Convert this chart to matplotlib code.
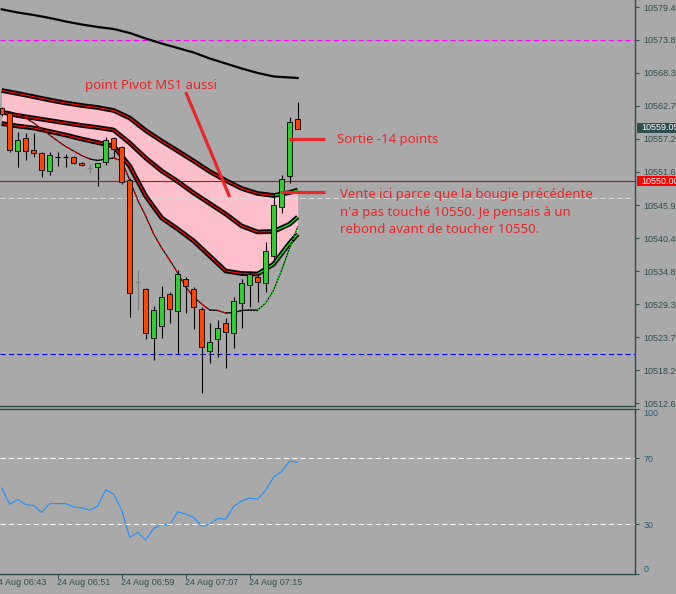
import matplotlib
matplotlib.use("Agg")
import matplotlib.pyplot as plt
import matplotlib.transforms as mtransforms
from matplotlib.collections import LineCollection
from matplotlib.patches import Rectangle
import numpy as np

BG = "#a9a9a9"
AXIS = "#2f4f4f"
BULL = "#32cd32"
BEAR = "#ff4500"
NOTE = "#e8262c"

# M1 bars, bar 0 = 24 Aug 06:44
opens = [10562.33, 10561.58, 10555.18, 10557.32, 10555.30, 10554.79, 10551.76, 10554.17,
         10554.17, 10554.12, 10553.06, 10552.26, 10552.48, 10553.22, 10557.27, 10555.75,
         10550.24, 10533.05, 10531.87, 10523.56, 10525.68, 10530.98, 10528.21, 10533.50,
         10531.87, 10528.45, 10521.47, 10523.39, 10526.09, 10524.40, 10529.46, 10532.49,
         10533.94, 10532.83, 10537.48, 10545.74, 10550.97, 10560.47]
highs = [10562.60, 10561.90, 10558.38, 10558.21, 10558.16, 10554.90, 10555.01, 10555.01,
         10554.60, 10554.30, 10553.20, 10553.00, 10553.10, 10557.54, 10557.54, 10556.00,
         10550.50, 10535.07, 10532.00, 10529.00, 10532.37, 10531.41, 10535.07, 10533.94,
         10532.26, 10528.89, 10526.09, 10526.64, 10526.93, 10530.57, 10533.61, 10534.95,
         10534.52, 10539.79, 10548.05, 10551.08, 10560.81, 10563.34]
lows = [10561.10, 10555.00, 10552.48, 10553.61, 10554.17, 10550.75, 10551.08, 10552.60,
        10552.48, 10552.90, 10552.60, 10551.50, 10549.23, 10552.77, 10554.17, 10549.57,
        10527.10, 10528.33, 10523.39, 10519.90, 10523.56, 10526.19, 10520.91, 10527.77,
        10525.18, 10514.29, 10519.35, 10520.46, 10518.50, 10521.87, 10525.24, 10528.89,
        10529.73, 10531.41, 10536.47, 10544.73, 10549.79, 10558.89]
closes = [10561.37, 10555.30, 10556.98, 10555.18, 10554.84, 10551.93, 10554.45, 10554.17,
          10554.17, 10553.16, 10552.72, 10552.26, 10553.06, 10556.98, 10555.42, 10549.95,
          10531.25, 10533.05, 10524.40, 10528.33, 10530.47, 10528.45, 10534.35, 10532.37,
          10528.89, 10522.04, 10522.88, 10525.24, 10524.57, 10529.80, 10532.83, 10534.35,
          10533.00, 10538.27, 10545.98, 10550.36, 10559.97, 10558.89]
grey_dojis = [11, 17]

# indicator lines, read every second bar
ma_bars = [0, 2, 4, 6, 8, 10, 12, 14, 16, 18, 20, 22, 24, 26, 28, 30, 32, 34, 36, 37]
slow_ma = [10579.01, 10578.47, 10578.05, 10577.55, 10576.96, 10576.45, 10576.03, 10575.69,
           10575.02, 10574.09, 10573.25, 10572.49, 10571.73, 10570.72, 10569.88, 10569.03,
           10568.28, 10567.69, 10567.52, 10567.43]
band_upper = [10565.33, 10564.82, 10564.28, 10563.72, 10563.22, 10562.80, 10562.46, 10561.96,
              10560.69, 10558.58, 10556.81, 10555.13, 10553.44, 10551.67, 10550.16, 10548.81,
              10547.97, 10547.63, 10548.13, 10548.56]
band_mid = [10561.70, 10561.11, 10560.69, 10560.27, 10559.85, 10559.43, 10559.09, 10558.67,
            10556.48, 10553.95, 10551.76, 10549.99, 10548.05, 10546.28, 10544.51, 10542.49,
            10541.48, 10541.56, 10542.82, 10544.00]
band_lower = [10559.76, 10559.34, 10559.01, 10558.42, 10557.83, 10557.15, 10556.56, 10555.97,
              10552.60, 10547.54, 10543.84, 10541.98, 10539.96, 10537.43, 10534.90, 10534.48,
              10534.40, 10536.08, 10539.62, 10541.14]

fast_bars = list(range(2, 38))
fast_ma = [10561.37, 10560.69, 10559.85, 10558.84, 10557.83, 10556.81, 10555.89, 10555.13,
           10554.37, 10553.78, 10553.53, 10553.78, 10553.95, 10553.44, 10550.24, 10546.87,
           10544.17, 10541.14, 10538.78, 10536.76, 10534.57, 10532.21, 10530.52, 10529.34,
           10528.33, 10528.25, 10527.82, 10527.91, 10528.25, 10528.33, 10528.33, 10529.51,
           10531.70, 10535.07, 10538.78, 10542.32]

osc = [52.0, 42.1, 45.0, 41.9, 41.3, 37.1, 42.5, 42.5, 42.5, 40.5, 39.9, 38.5, 40.9, 51.0,
       48.2, 38.5, 21.9, 25.0, 20.3, 27.4, 30.0, 29.4, 37.5, 36.1, 34.1, 28.8, 30.0, 33.5,
       33.0, 40.9, 44.1, 45.9, 45.2, 50.6, 58.7, 62.1, 68.4, 67.6]
osc_levels = [70, 30]
osc_ticks = [0, 30, 70, 100]

pivot_ms1 = 10573.85
level_10550 = 10550.00
grey_level = 10547.21
blue_level = 10520.91
bid_price = 10559.05

price_ticks = [10579.40, 10573.85, 10568.30, 10562.75, 10557.20, 10551.65, 10545.95,
               10540.40, 10534.85, 10529.30, 10523.75, 10518.20, 10512.65]
time_bars = [-1, 7, 15, 23, 31]
time_labels = ["24 Aug 06:43", "24 Aug 06:51", "24 Aug 06:59", "24 Aug 07:07", "24 Aug 07:15"]

notes = [
    ("point Pivot MS1 aussi", 10.4, 10566.25),
    ("Sortie -14 points", 41.9, 10557.15),
    ("Vente ici parce que la bougie précédente", 42.3, 10547.88),
    ("n'a pas touché 10550. Je pensais à un", 42.3, 10544.80),
    ("rebond avant de toucher 10550.", 42.3, 10541.85),
]
note_lines = [
    ([23.0, 28.5], [10565.07, 10547.38]),
    ([35.9, 40.4], [10557.15, 10557.15]),
    ([34.8, 40.4], [10548.22, 10548.22]),
]

plt.rcParams["font.family"] = ["Liberation Sans", "DejaVu Sans"]

fig = plt.figure(figsize=(6.76, 5.94), dpi=100, facecolor=BG)
ax = fig.add_axes([0, 0.3165, 0.9393, 0.6835], facecolor=BG)
axo = fig.add_axes([0, 0.0345, 0.9393, 0.2769], facecolor=BG, sharex=ax)

ax.set_xlim(-0.2125, 79.16)
ax.set_ylim(10512.15, 10580.58)

# pink band between upper and lower envelope
ax.fill_between(ma_bars, band_upper, band_lower, color="#ffc0cb", lw=0, zorder=1)

# horizontal levels
ax.axhline(pivot_ms1, color="#ff00ff", lw=0.75, dashes=(5, 3), zorder=2)
ax.axhline(level_10550, color="#e00000", lw=0.8, zorder=2)
ax.axhline(grey_level, color="#d8d8d8", lw=0.75, dashes=(5, 3), zorder=2)
ax.axhline(blue_level, color="#0000ff", lw=0.75, dashes=(5, 3), zorder=2)

# slow moving average
ax.plot(ma_bars, slow_ma, color="black", lw=1.6, zorder=3)


def center_segments(xs, ys, rise_min):
    pts = np.column_stack([xs, ys])
    segs = np.stack([pts[:-1], pts[1:]], axis=1)
    d = np.diff(ys)
    cols = ["#00ff00" if v > rise_min else "#ff0000" for v in d]
    return segs, cols


for band in (band_upper, band_mid, band_lower):
    ax.plot(ma_bars, band, color="black", lw=3.4, solid_capstyle="butt", zorder=3)
    segs, cols = center_segments(ma_bars, band, 0.1)
    ax.add_collection(LineCollection(segs, colors=cols, linewidths=0.9, zorder=4))

# fast moving average
ax.plot(fast_bars, fast_ma, color="black", lw=0.8, zorder=4)
pts = np.column_stack([fast_bars, fast_ma])
segs = np.stack([pts[:-1], pts[1:]], axis=1)
fcols = []
for v in np.diff(fast_ma):
    if v > 0.35:
        fcols.append("#00ff00")
    elif v < -0.35:
        fcols.append("#ff0000")
    else:
        fcols.append("black")
ax.add_collection(LineCollection(segs, colors=fcols, linewidths=0.9,
                                 linestyles=(0, (1.2, 1.2)), zorder=4))

# candles
for i in range(len(opens)):
    o, h, l, c = opens[i], highs[i], lows[i], closes[i]
    wick_col = "#808080" if i in grey_dojis else "black"
    ax.vlines(i, l, h, color=wick_col, lw=0.8, zorder=5)
    if o == c:
        ax.hlines(o, i - 0.3, i + 0.3, color=wick_col, lw=0.8, zorder=6)
    else:
        col = BULL if c > o else BEAR
        ax.bar(i, abs(c - o), bottom=min(o, c), width=0.55, color=col,
               edgecolor="black", linewidth=0.6, zorder=6)

# notes
for xs, ys in note_lines:
    ax.plot(xs, ys, color=NOTE, lw=2.3, solid_capstyle="butt", zorder=7)
for txt, x, y in notes:
    ax.text(x, y, txt, color=NOTE, fontsize=9.5, family=["Noto Sans", "DejaVu Sans"],
            ha="left", va="center", zorder=8)

# price axis
ax.yaxis.tick_right()
ax.set_yticks(price_ticks)
ax.set_yticklabels([f"{p:.2f}" for p in price_ticks])
ax.tick_params(axis="y", direction="out", length=3, width=0.8, colors=AXIS,
               labelsize=6.5, pad=3)
ax.tick_params(axis="x", bottom=False, labelbottom=False)
for side in ("left", "top"):
    ax.spines[side].set_visible(False)
for side in ("right", "bottom"):
    ax.spines[side].set_color(AXIS)
    ax.spines[side].set_linewidth(1.0)

blend = mtransforms.blended_transform_factory(ax.transAxes, ax.transData)
for price, fc in ((bid_price, "#2f4f4f"), (level_10550, "#ff0000")):
    ax.add_patch(Rectangle((1.003, price - 0.84), 0.07, 1.69, transform=blend,
                           facecolor=fc, edgecolor="none", clip_on=False, zorder=9))
    ax.text(1.0094, price, f"{price:.2f}", transform=blend, color="white",
            fontsize=6.5, ha="left", va="center", clip_on=False, zorder=10)

# oscillator panel
axo.set_ylim(0, 100)
axo.plot(range(len(osc)), osc, color="#1e90ff", lw=0.8)
for lv in osc_levels:
    axo.axhline(lv, color="white", lw=0.75, dashes=(5, 3))
axo.yaxis.tick_right()
axo.set_yticks(osc_ticks)
axo.set_yticklabels([str(t) for t in osc_ticks])
axo.tick_params(axis="y", direction="out", length=3, width=0.8, colors=AXIS,
                labelsize=6.5, pad=3)
for lbl, t in zip(axo.get_yticklabels(), osc_ticks):
    lbl.set_color("#2a5f7a")
    if t == 100:
        lbl.set_va("top")
    elif t == 0:
        lbl.set_va("bottom")
axo.spines["left"].set_visible(False)
for side in ("right", "bottom", "top"):
    axo.spines[side].set_color(AXIS)
    axo.spines[side].set_linewidth(1.0)

axo.set_xticks(time_bars[1:])
axo.tick_params(axis="x", direction="out", length=3, width=0.8, colors=AXIS,
                labelbottom=False)
tblend = mtransforms.blended_transform_factory(axo.transData, axo.transAxes)
for b, lab in zip(time_bars, time_labels):
    axo.text(b - 0.07, -0.056, lab, transform=tblend, color=AXIS, fontsize=6.5,
             ha="left", va="center", clip_on=False)

fig.savefig("out.png", dpi=100, facecolor=BG)
